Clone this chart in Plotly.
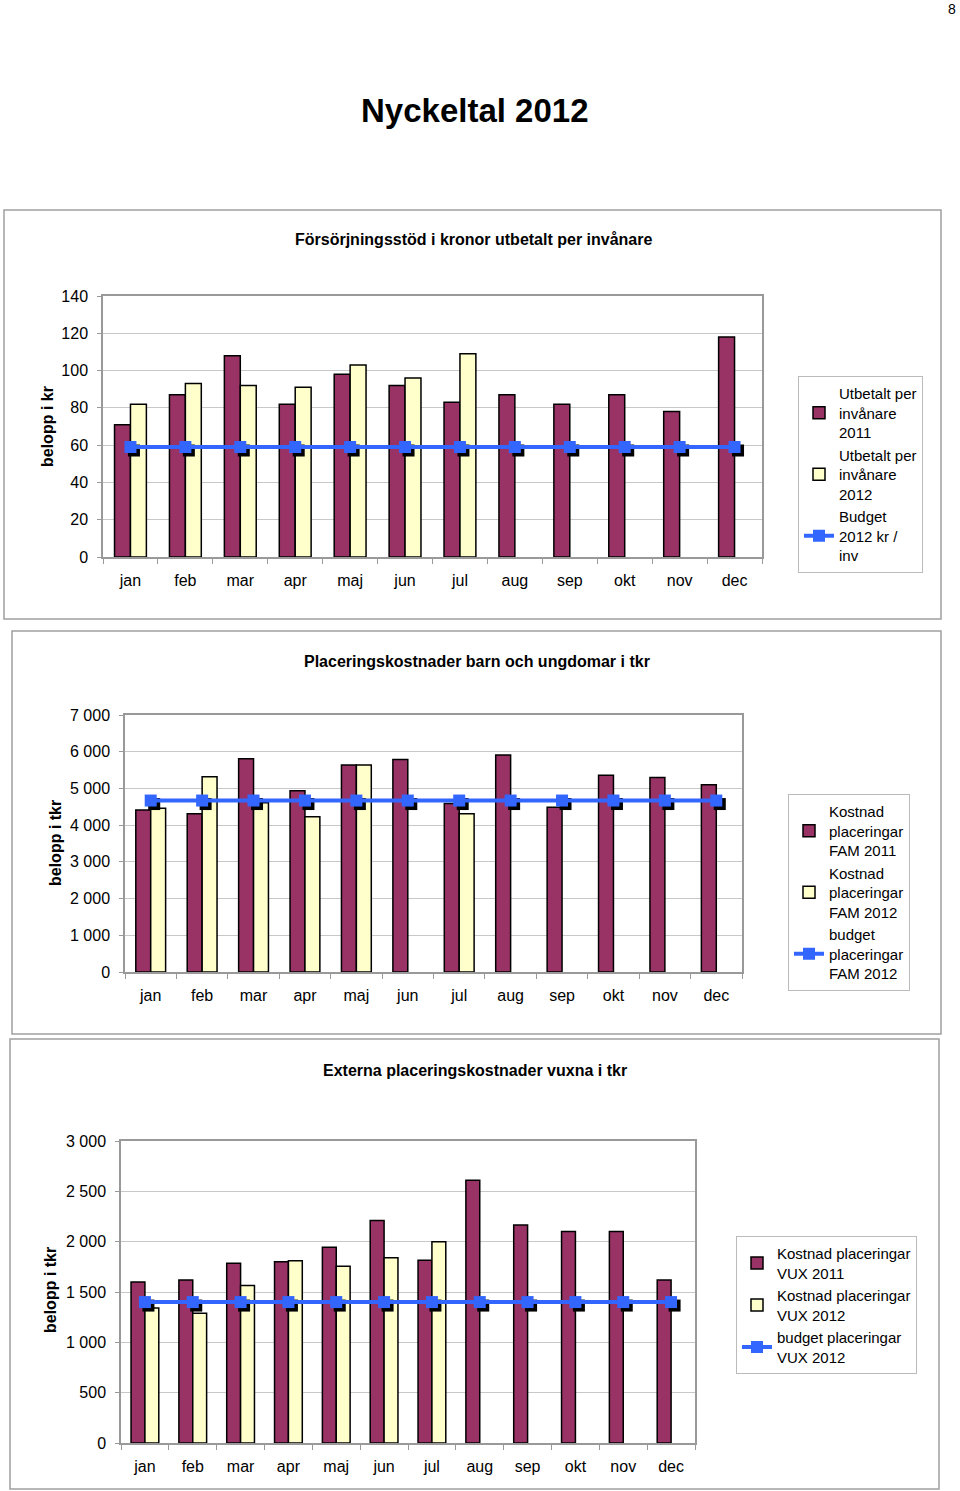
import plotly.graph_objects as go

W, H = 960, 1491
months = ["jan", "feb", "mar", "apr", "maj", "jun", "jul", "aug", "sep", "okt", "nov", "dec"]

# Chart 1: Försörjningsstöd (kr per invånare)
c1_2011 = [71, 87, 108, 82, 98, 92, 83, 87, 82, 87, 78, 118]
c1_2012 = [82, 93, 92, 91, 103, 96, 109, None, None, None, None, None]
c1_budget = [59] * 12

# Chart 2: Placeringskostnader barn och ungdomar (tkr)
c2_2011 = [4410, 4310, 5810, 4940, 5640, 5790, 4590, 5910, 4490, 5360, 5300, 5100]
c2_2012 = [4460, 5320, 4610, 4230, 5640, None, 4310, None, None, None, None, None]
c2_budget = [4670] * 12

# Chart 3: Externa placeringskostnader vuxna (tkr)
c3_2011 = [1600, 1620, 1785, 1800, 1945, 2210, 1815, 2610, 2165, 2100, 2100, 1620]
c3_2012 = [1340, 1290, 1565, 1810, 1755, 1840, 2000, None, None, None, None, None]
c3_budget = [1400] * 12

WINE = "#993366"
CREAM = "#FFFFCC"
BLUE = "#3366FF"
FONT = "Liberation Sans, Arial, sans-serif"

def px_x(p):
    return p / W

def px_y(p):
    return 1 - p / H

charts = [
    dict(y11=c1_2011, y12=c1_2012, bud=c1_budget,
         names=["Utbetalt per<br>invånare<br>2011", "Utbetalt per<br>invånare<br>2012", "Budget<br>2012 kr /<br>inv"],
         plot=(103, 762, 296, 557), yr=140, dt=20, fmt="",
         panel=(4, 941, 210, 619), title="Försörjningsstöd i kronor utbetalt per invånare",
         title_xy=(473, 240), ylab="belopp i kr", ylab_xy=(47, 427),
         legend=(798, 376)),
    dict(y11=c2_2011, y12=c2_2012, bud=c2_budget,
         names=["Kostnad<br>placeringar<br>FAM 2011", "Kostnad<br>placeringar<br>FAM 2012", "budget<br>placeringar<br>FAM 2012"],
         plot=(125, 742, 715, 972), yr=7000, dt=1000, fmt=" ",
         panel=(12, 941, 631, 1034), title="Placeringskostnader barn och ungdomar i tkr",
         title_xy=(477, 661), ylab="belopp i tkr", ylab_xy=(55, 843),
         legend=(788, 794)),
    dict(y11=c3_2011, y12=c3_2012, bud=c3_budget,
         names=["Kostnad placeringar<br>VUX 2011", "Kostnad placeringar<br>VUX 2012", "budget placeringar<br>VUX 2012"],
         plot=(121, 695, 1141, 1443), yr=3000, dt=500, fmt=" ",
         panel=(10, 939, 1039, 1489), title="Externa placeringskostnader vuxna i tkr",
         title_xy=(475, 1070), ylab="belopp i tkr", ylab_xy=(50, 1290),
         legend=(736, 1236)),
]

fig = go.Figure()
layout = dict(
    width=W, height=H, margin=dict(l=0, r=0, t=0, b=0, autoexpand=False),
    paper_bgcolor="white", plot_bgcolor="white",
    font=dict(family=FONT, size=15, color="black"),
    barmode="group", bargap=0.42, bargroupgap=0,
    shapes=[], annotations=[],
)

for i, c in enumerate(charts):
    n = i + 1
    xa = "x" if n == 1 else f"x{n}"
    ya = "y" if n == 1 else f"y{n}"
    xa2_idx = 10 + n
    xa2 = f"x{xa2_idx}"
    lg = "legend" if n == 1 else f"legend{n}"
    x0, x1, y0, y1 = c["plot"]

    fig.add_trace(go.Bar(x=months, y=c["y11"], name=c["names"][0], xaxis=xa, yaxis=ya,
                         marker=dict(color=WINE, line=dict(color="black", width=1.5)),
                         legend=lg, offsetgroup=f"a{n}"))
    fig.add_trace(go.Bar(x=months, y=c["y12"], name=c["names"][1], xaxis=xa, yaxis=ya,
                         marker=dict(color=CREAM, line=dict(color="black", width=1.5)),
                         legend=lg, offsetgroup=f"b{n}"))
    idx = list(range(12))
    # dark drop-shadow under the budget markers (offset a few pixels right/down)
    shift_y = c["yr"] * 3.5 / (y1 - y0)
    shift_x = 12 * 3.5 / (x1 - x0)
    fig.add_trace(go.Scatter(x=[k + shift_x for k in idx], y=[b - shift_y for b in c["bud"]],
                             mode="markers", marker=dict(symbol="square", size=12, color="black"),
                             xaxis=xa2, yaxis=ya, showlegend=False, hoverinfo="skip"))
    fig.add_trace(go.Scatter(x=idx, y=c["bud"], name=c["names"][2], mode="lines+markers",
                             line=dict(color=BLUE, width=4),
                             marker=dict(symbol="square", size=12, color=BLUE),
                             xaxis=xa2, yaxis=ya, legend=lg))

    layout[f"xaxis{'' if n == 1 else n}"] = dict(
        domain=[px_x(x0), px_x(x1)], anchor=ya, type="category",
        categoryorder="array", categoryarray=months,
        showline=True, linecolor="#999999", linewidth=1.5, mirror=True,
        ticks="outside", tickson="boundaries", ticklen=5, tickcolor="#999999",
        showgrid=False, tickfont=dict(size=16), ticklabelstandoff=8,
        range=[-0.5, 11.5], fixedrange=True, automargin=False)
    layout[f"xaxis{xa2_idx}"] = dict(
        domain=[px_x(x0), px_x(x1)], anchor=ya, overlaying=xa, range=[-0.5, 11.5],
        visible=False, fixedrange=True, automargin=False)
    tv = list(range(0, c["yr"] + 1, c["dt"]))
    tt = [f"{v:,}".replace(",", c["fmt"]) for v in tv]
    layout[f"yaxis{'' if n == 1 else n}"] = dict(
        domain=[px_y(y1), px_y(y0)], anchor=xa, range=[0, c["yr"]],
        tickvals=tv, ticktext=tt, showgrid=True, gridcolor="#C8C8C8", gridwidth=1,
        showline=True, linecolor="#999999", linewidth=1.5, mirror=True,
        ticks="outside", ticklen=4, tickcolor="#999999", ticklabelstandoff=6,
        tickfont=dict(size=16), zeroline=False, fixedrange=True, automargin=False)
    lx, ly = c["legend"]
    layout[lg] = dict(x=px_x(lx), y=px_y(ly), xanchor="left", yanchor="top",
                      xref="paper", yref="paper",
                      bordercolor="#BBBBBB", borderwidth=1, bgcolor="white",
                      font=dict(size=15, family=FONT), tracegroupgap=4,
                      itemwidth=30)
    px0, px1, py0, py1 = c["panel"]
    layout["shapes"].append(dict(type="rect", xref="paper", yref="paper",
                                 x0=px_x(px0), x1=px_x(px1), y0=px_y(py1), y1=px_y(py0),
                                 line=dict(color="#A0A0A0", width=1.5), layer="below"))
    tx, ty = c["title_xy"]
    layout["annotations"].append(dict(text=f"<b>{c['title']}</b>", x=px_x(tx), y=px_y(ty),
                                      xref="paper", yref="paper", showarrow=False,
                                      font=dict(size=16), xanchor="center", yanchor="middle"))
    lx2, ly2 = c["ylab_xy"]
    layout["annotations"].append(dict(text=f"<b>{c['ylab']}</b>", x=px_x(lx2), y=px_y(ly2),
                                      xref="paper", yref="paper", showarrow=False, textangle=-90,
                                      font=dict(size=16), xanchor="center", yanchor="middle"))

layout["annotations"].append(dict(text="<b>Nyckeltal 2012</b>", x=px_x(475), y=px_y(110),
                                  xref="paper", yref="paper", showarrow=False,
                                  font=dict(size=33), xanchor="center", yanchor="middle"))
layout["annotations"].append(dict(text="8", x=px_x(958), y=px_y(9),
                                  xref="paper", yref="paper", showarrow=False,
                                  font=dict(size=14), xanchor="right", yanchor="middle"))

fig.update_layout(**layout)
fig.write_html("out.html", post_script="document.body.style.margin='0px';",
               config={"displayModeBar": False})
